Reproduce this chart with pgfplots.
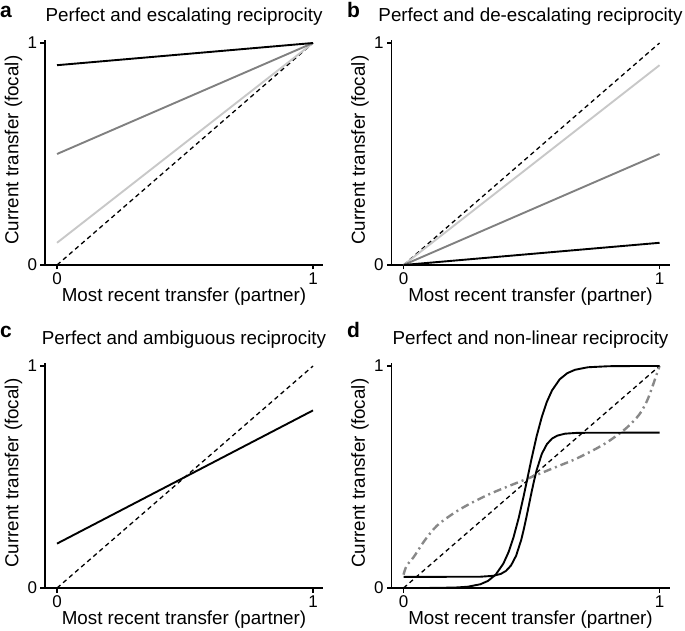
\documentclass[border=0pt]{standalone}
\usepackage{fontspec}
\setmainfont{Liberation Sans}
\usepackage{pgfplots}
\pgfplotsset{compat=1.18}
\newcommand\labsize{\fontsize{18.8bp}{22bp}\selectfont}
\newcommand\ticksize{\fontsize{17bp}{20bp}\selectfont}
\definecolor{lgray}{RGB}{200,200,200}
\definecolor{mgray}{RGB}{128,128,128}
\definecolor{dgray}{RGB}{136,136,136}
\pgfplotsset{
  panel/.style={
    x=256bp, y=222bp,
    xmin=-0.047, xmax=1.039, ymin=0, ymax=1.0135,
    axis x line*=bottom, axis y line*=left,
    axis line style={line width=1.2bp, -},
    xtick={0,1}, ytick={0,1},
    tick align=outside, major tick length=4.5bp,
    tick style={line width=1.2bp, black},
    /pgf/number format/assume math mode=true,
    ticklabel style={font=\ticksize},
    clip=false,
    title style={at={(0.5,1.0556)}, anchor=base, font=\labsize},
    xlabel style={at={(0.5,-0.1644)}, anchor=base, font=\labsize},
    ylabel style={at={(-0.096,0.51)}, anchor=base, font=\labsize},
    xlabel={Most recent transfer (partner)},
    ylabel={Current transfer (focal)},
    anchor=south west,
  },
  diag/.style={black, line width=1.3bp, dash pattern=on 4.5bp off 3.5bp},
  sol/.style={line width=1.9bp},
}
\begin{document}
\begin{tikzpicture}
\useasboundingbox (0,0) rectangle (685bp,631bp);
% panel a
\begin{axis}[panel, at={(45bp,366bp)}, title={Perfect and escalating reciprocity}]
\addplot[diag] coordinates {(0,0) (1,1)};
\addplot[sol, lgray] coordinates {(0,0.1) (1,1)};
\addplot[sol, mgray] coordinates {(0,0.5) (1,1)};
\addplot[sol, black] coordinates {(0,0.9) (1,1)};
\end{axis}
% panel b
\begin{axis}[panel, at={(391.5bp,366bp)}, title={Perfect and de-escalating reciprocity}]
\addplot[diag] coordinates {(0,0) (1,1)};
\addplot[sol, lgray] coordinates {(0,0) (1,0.9)};
\addplot[sol, mgray] coordinates {(0,0) (1,0.5)};
\addplot[sol, black] coordinates {(0,0) (1,0.1)};
\end{axis}
% panel c
\begin{axis}[panel, at={(45bp,43bp)}, title={Perfect and ambiguous reciprocity}]
\addplot[diag] coordinates {(0,0) (1,1)};
\addplot[sol, black] coordinates {(0,0.2) (1,0.8)};
\end{axis}
% panel d
\begin{axis}[panel, at={(391.5bp,43bp)}, title={Perfect and non-linear reciprocity}]
\addplot[diag] coordinates {(0,0) (1,1)};
\addplot[line width=2.4bp, dash pattern=on 8bp off 4bp on 2bp off 4bp, color=dgray, smooth] coordinates {
(0,0.06) (0.012,0.1) (0.04,0.14) (0.08,0.21) (0.13,0.28) (0.2,0.34) (0.26,0.38) (0.33,0.42) (0.4,0.454) (0.5,0.5) (0.6,0.547) (0.67,0.58) (0.74,0.62) (0.8,0.66) (0.87,0.72) (0.92,0.78) (0.95,0.84) (0.97,0.9) (0.985,0.95) (1,1)};
\addplot[sol, black] coordinates {
(0,0.0) (0.1,0.0002) (0.2,0.0019) (0.25,0.0056) (0.3,0.0168) (0.33,0.032) (0.36,0.060) (0.39,0.110) (0.41,0.161) (0.43,0.230) (0.45,0.316) (0.47,0.418) (0.485,0.5) (0.50,0.582) (0.52,0.684) (0.54,0.770) (0.56,0.839) (0.58,0.890) (0.61,0.940) (0.64,0.968) (0.67,0.983) (0.72,0.9943) (0.8,0.999) (0.9,0.9999) (1,1)};
\addplot[sol, black] coordinates {
(0,0.05) (0.3,0.0508) (0.35,0.0548) (0.38,0.0635) (0.40,0.0767) (0.42,0.1016) (0.44,0.146) (0.46,0.218) (0.47,0.266) (0.48,0.319) (0.49,0.375) (0.50,0.431) (0.51,0.484) (0.52,0.531) (0.54,0.604) (0.56,0.648) (0.58,0.673) (0.60,0.686) (0.63,0.695) (0.68,0.699) (1,0.70)};
\end{axis}
\node[anchor=base west, inner sep=0, font=\fontsize{21bp}{24bp}\selectfont\bfseries] at (0bp,613bp) {a};
\node[anchor=base west, inner sep=0, font=\fontsize{21bp}{24bp}\selectfont\bfseries] at (347bp,613bp) {b};
\node[anchor=base west, inner sep=0, font=\fontsize{21bp}{24bp}\selectfont\bfseries] at (0bp,293bp) {c};
\node[anchor=base west, inner sep=0, font=\fontsize{21bp}{24bp}\selectfont\bfseries] at (347bp,293bp) {d};
\end{tikzpicture}
\end{document}
